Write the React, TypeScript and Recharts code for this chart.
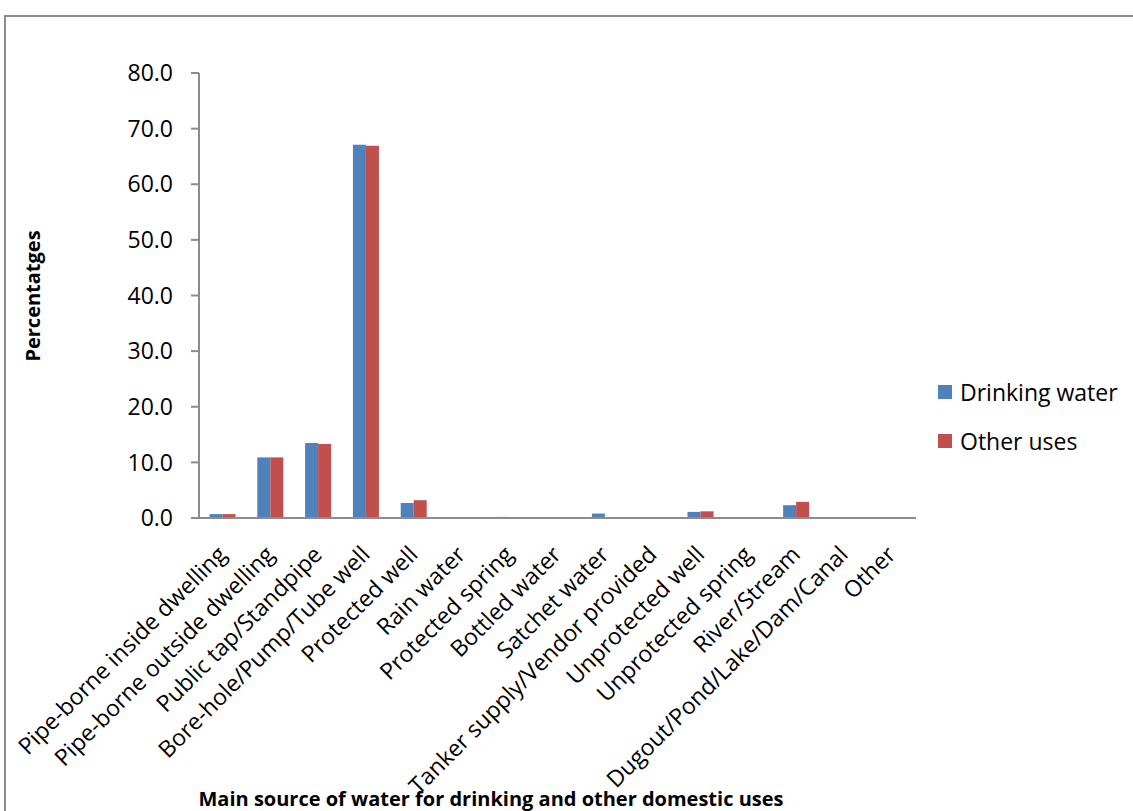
import { BarChart, Bar, XAxis, YAxis } from 'recharts';

const CATEGORIES = [
  'Pipe-borne inside dwelling',
  'Pipe-borne outside dwelling',
  'Public tap/Standpipe',
  'Bore-hole/Pump/Tube well',
  'Protected well',
  'Rain water',
  'Protected spring',
  'Bottled water',
  'Satchet water',
  'Tanker supply/Vendor provided',
  'Unprotected well',
  'Unprotected spring',
  'River/Stream',
  'Dugout/Pond/Lake/Dam/Canal',
  'Other',
];

const DRINKING = [0.7, 10.9, 13.5, 67.1, 2.7, 0.0, 0.2, 0.0, 0.8, 0.0, 1.1, 0.0, 2.3, 0.0, 0.0];
const OTHER_USES = [0.7, 10.9, 13.3, 66.9, 3.2, 0.0, 0.2, 0.0, 0.0, 0.0, 1.2, 0.0, 2.9, 0.0, 0.0];

const Y_TICKS = [0, 10, 20, 30, 40, 50, 60, 70, 80];

const SERIES = [
  { key: 'drinking', name: 'Drinking water', color: '#4F81BD' },
  { key: 'other', name: 'Other uses', color: '#C0504D' },
];

const FONT = '"Open Sans", sans-serif';
const AXIS_GRAY = '#8c8c8c';

const data = CATEGORIES.map((name, i) => ({
  name,
  drinking: DRINKING[i],
  other: OTHER_USES[i],
}));

// category names run diagonally, ending just under their bar pair
function SlantedTick({ x, y, payload }: any) {
  const ax = x + 5;
  const ay = y + 30;
  return (
    <text
      x={ax}
      y={ay}
      textAnchor="end"
      fontFamily={FONT}
      fontSize={23}
      fill="#000"
      transform={`rotate(-45, ${ax}, ${ay})`}
    >
      {payload.value}
    </text>
  );
}

export default function App() {
  return (
    <div style={{ position: 'absolute', left: 0, top: 0, width: 1133, height: 811, background: '#fff' }}>
      <svg width={1133} height={811} style={{ position: 'absolute', left: 0, top: 0 }}>
        <path d={`M5 811 L5 16 L1133 16`} fill="none" stroke={AXIS_GRAY} strokeWidth={2} />
        <text
          x={0}
          y={0}
          transform="translate(40, 296) rotate(-90)"
          textAnchor="middle"
          fontFamily={FONT}
          fontWeight="bold"
          fontSize={20}
        >
          Percentatges
        </text>
        <text x={491} y={806} textAnchor="middle" fontFamily={FONT} fontWeight="bold" fontSize={20}>
          Main source of water for drinking and other domestic uses
        </text>
      </svg>
      <div style={{ position: 'absolute', left: 0, top: 0 }}>
        <BarChart
          width={1133}
          height={811}
          data={data}
          margin={{ top: 73, right: 217, bottom: 0, left: 0 }}
          barCategoryGap="22%"
          barGap={0}
        >
          <XAxis
            dataKey="name"
            interval={0}
            height={293}
            tickLine={false}
            axisLine={{ stroke: AXIS_GRAY, strokeWidth: 2 }}
            tick={<SlantedTick />}
          />
          <YAxis
            width={199}
            domain={[0, 80]}
            ticks={Y_TICKS}
            interval={0}
            tickSize={8}
            tickMargin={18}
            tickFormatter={(v: number) => v.toFixed(1)}
            axisLine={{ stroke: AXIS_GRAY, strokeWidth: 2 }}
            tickLine={{ stroke: AXIS_GRAY, strokeWidth: 2 }}
            tick={{ fontFamily: FONT, fontSize: 23, fill: '#000' }}
          />
          {SERIES.map((s) => (
            <Bar key={s.key} dataKey={s.key} name={s.name} fill={s.color} isAnimationActive={false} />
          ))}
        </BarChart>
      </div>
      {SERIES.map((s, i) => (
        <div
          key={s.key}
          style={{
            position: 'absolute',
            left: 938,
            top: 377 + i * 49,
            display: 'flex',
            alignItems: 'center',
            fontFamily: FONT,
            fontSize: 23,
            lineHeight: '30px',
            color: '#000',
          }}
        >
          <span style={{ display: 'inline-block', width: 14, height: 14, background: s.color, marginRight: 8 }} />
          {s.name}
        </div>
      ))}
    </div>
  );
}
